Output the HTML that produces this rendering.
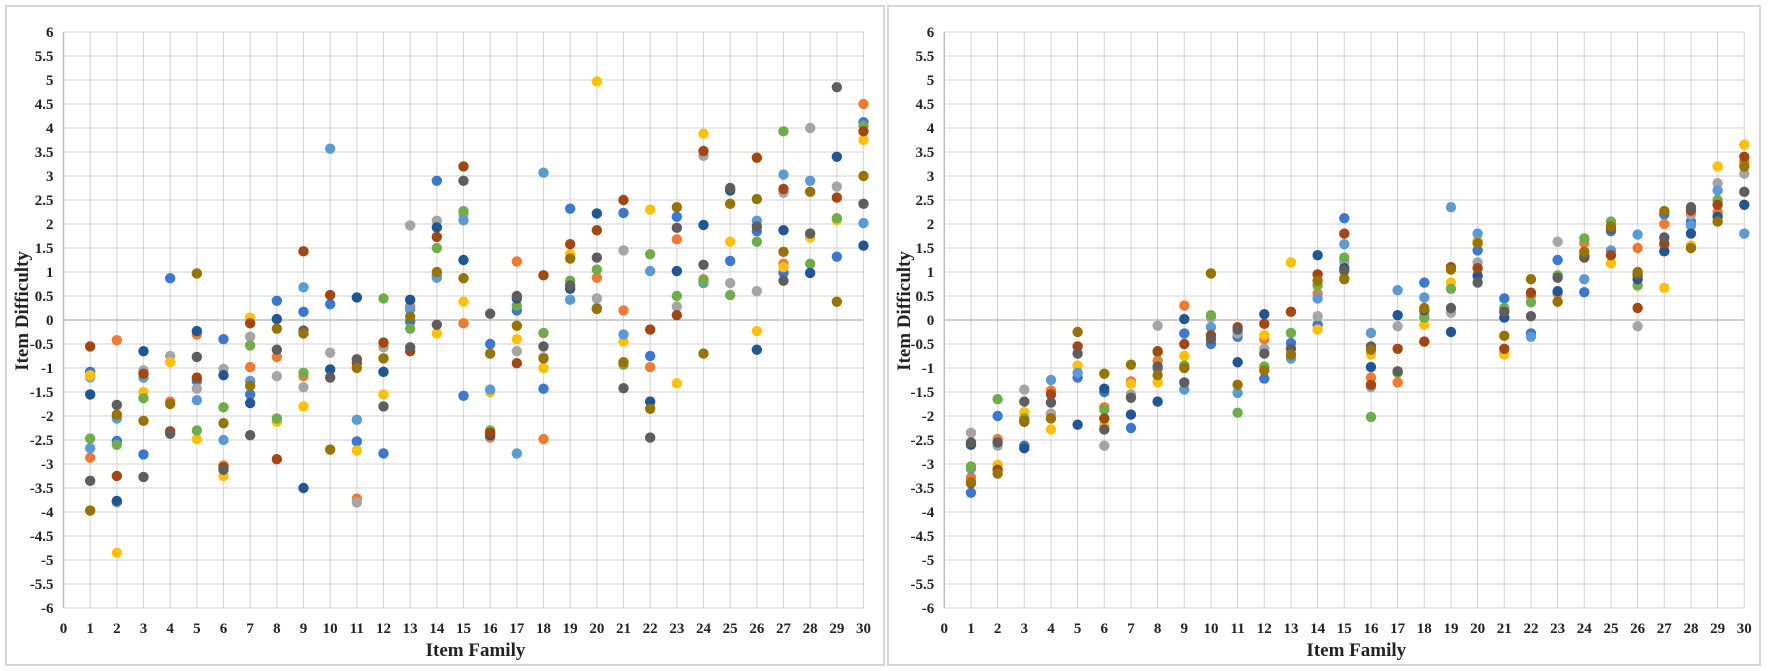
<!DOCTYPE html>
<html><head><meta charset="utf-8">
<style>
html,body{margin:0;padding:0;background:#fff;}
svg{display:block;}
text{font-family:"Liberation Serif",serif;font-weight:bold;fill:#222;}
</style></head>
<body>
<svg id="chart" width="1772" height="671" viewBox="0 0 1772 671" xmlns="http://www.w3.org/2000/svg"></svg>
<script>
// Series order: blue, orange, gray, yellow, lightblue, green, darkblue, darkred, darkgray, olive
const seriesNames = ['blue','orange','gray','yellow','light-blue','green','dark-blue','dark-red','dark-gray','olive'];
const seriesColors = ['#3a78d4','#f07a30','#a5a5a5','#ffc000','#5b9bd5','#6fad47','#1f5796','#a3460f','#5e5e5e','#997300'];
const families = [1,2,3,4,5,6,7,8,9,10,11,12,13,14,15,16,17,18,19,20,21,22,23,24,25,26,27,28,29,30];
const xTicks = [0,1,2,3,4,5,6,7,8,9,10,11,12,13,14,15,16,17,18,19,20,21,22,23,24,25,26,27,28,29,30];
const yTicks = [6,5.5,5,4.5,4,3.5,3,2.5,2,1.5,1,0.5,0,-0.5,-1,-1.5,-2,-2.5,-3,-3.5,-4,-4.5,-5,-5.5,-6];
const _ = null;

// Left chart
const leftBlue = [-1.08,-2.52,-2.8,0.87,-1.27,-0.4,-1.55,0.4,0.17,0.33,-2.53,-2.78,-0.03,2.9,-1.58,-0.5,0.2,-1.43,2.32,_,2.23,-0.75,2.15,_,1.23,1.85,0.98,_,1.32,4.12];
const leftOrange = [-2.87,-0.42,-1.1,-1.7,-0.3,-3.03,-0.98,-0.77,-1.17,_,-3.72,_,0.28,0.93,-0.07,-2.45,1.22,-2.48,_,0.88,0.2,-0.98,1.68,0.85,_,_,1.17,_,_,4.5];
const leftGray = [-1.2,-3.8,-1.05,-0.75,-1.43,-1.02,-0.35,-1.17,-1.4,-0.68,-3.8,-0.57,1.97,2.07,2.2,-2.35,-0.65,-0.78,_,0.45,1.45,_,0.28,3.42,0.77,0.6,2.65,4.0,2.78,_];
const leftYellow = [-1.15,-4.85,-1.5,-0.88,-2.48,-3.25,0.05,-2.12,-1.8,_,-2.72,-1.55,_,-0.28,0.38,-1.5,-0.4,-1.0,1.37,4.97,-0.45,2.3,-1.32,3.88,1.63,-0.23,1.1,1.72,2.08,3.75];
const leftLightBlue = [-2.67,-2.05,-1.2,_,-1.67,-2.5,-1.27,_,0.68,3.57,-2.08,_,0.22,0.88,2.08,-1.45,-2.78,3.07,0.42,0.25,-0.3,1.02,_,0.77,_,2.07,3.03,2.9,_,2.02];
const leftGreen = [-2.47,-2.6,-1.63,_,-2.3,-1.82,-0.53,-2.05,-1.1,_,_,0.45,-0.18,1.5,2.27,-2.3,0.3,-0.27,0.82,1.05,-0.93,1.37,0.5,0.82,0.52,1.63,3.93,1.17,2.12,4.05];
const leftDarkBlue = [-1.55,-3.77,-0.65,_,-0.23,-1.15,-1.73,0.02,-3.5,-1.03,0.47,-1.08,0.42,1.93,1.25,-2.4,0.45,_,0.65,2.22,_,-1.7,1.02,1.98,2.7,-0.62,1.87,0.98,3.4,1.55];
const leftDarkRed = [-0.55,-3.25,-1.12,-2.32,-1.2,-3.07,-0.07,-2.9,1.43,0.52,-0.9,-0.47,-0.65,1.73,3.2,-2.35,-0.9,0.93,1.58,1.87,2.5,-0.2,0.1,3.52,_,3.38,2.73,_,2.55,3.93];
const leftDarkGray = [-3.35,-1.77,-3.27,-2.37,-0.77,-3.12,-2.4,-0.62,-0.22,-1.2,-0.82,-1.8,-0.57,-0.1,2.9,0.13,0.5,-0.55,0.72,1.3,-1.42,-2.45,1.92,1.15,2.75,1.95,0.82,1.8,4.85,2.42];
const leftOlive = [-3.97,-1.97,-2.1,-1.75,0.97,-2.15,-1.37,-0.18,-0.28,-2.7,-1.0,-0.8,0.07,1.0,0.87,-0.7,-0.12,-0.8,1.28,0.23,-0.88,-1.85,2.35,-0.7,2.42,2.52,1.42,2.67,0.38,3.0];

// Right chart
const rightBlue = [-3.6,-2.0,-2.62,_,-1.2,-1.5,-2.25,_,-0.28,-0.5,-0.35,-1.22,-0.48,-0.1,2.12,_,_,0.78,_,1.45,0.45,-0.28,1.25,0.58,1.85,_,2.2,2.05,_,_];
const rightOrange = [-3.28,-2.48,_,-1.47,_,-1.82,-1.28,-0.85,0.3,_,_,-0.4,_,0.55,_,-1.2,-1.3,_,_,_,-0.7,0.5,0.55,1.6,_,1.5,2.0,_,2.25,3.3];
const rightGray = [-2.35,-2.62,-1.45,-1.95,_,-2.62,-1.55,-0.12,_,0.05,-0.28,-0.6,_,0.08,1.2,-1.4,-0.13,0.1,0.15,1.2,_,_,1.63,_,_,-0.13,1.55,2.2,2.85,3.05];
const rightYellow = [_,-3.02,-1.92,-2.28,-0.95,-2.2,-1.33,-1.3,-0.75,_,_,-0.32,1.2,-0.2,0.9,-0.72,_,-0.1,0.78,1.65,-0.72,_,_,_,1.18,0.9,0.67,1.55,3.2,3.65];
const rightLightBlue = [-3.1,_,_,-1.25,-1.1,_,_,-1.02,-1.45,-0.15,-1.52,_,-0.8,0.45,1.58,-0.27,0.62,0.47,2.35,1.8,_,-0.35,_,0.85,1.45,1.78,_,1.97,2.7,1.8];
const rightGreen = [-3.05,-1.65,-2.05,_,_,-1.87,_,-0.67,-0.95,0.1,-1.93,-0.97,-0.27,0.72,1.3,-2.02,-1.1,0.05,0.65,_,0.25,0.37,0.93,1.7,2.05,0.72,_,_,2.5,_];
const rightDarkBlue = [-2.6,_,-2.67,_,-2.18,-1.43,-1.97,-1.7,0.02,_,-0.88,0.12,_,1.35,1.08,-0.98,0.1,_,-0.25,0.92,0.05,_,0.6,_,_,0.85,1.43,1.8,2.15,2.4];
const rightDarkRed = [-3.4,-3.12,-2.12,-1.55,-0.55,-2.05,_,-0.65,-0.5,-0.32,-0.15,-0.08,0.17,0.95,1.8,-1.35,-0.6,-0.45,1.1,1.08,-0.6,0.57,_,1.3,1.35,0.25,1.6,2.28,2.4,3.4];
const rightDarkGray = [-2.55,-2.55,-1.7,-1.72,-0.7,-2.28,-1.62,-0.97,-1.3,-0.4,-0.2,-0.7,-0.6,_,1.03,-0.55,-1.07,0.2,0.25,0.78,0.17,0.08,0.88,1.33,1.9,0.95,1.72,2.35,_,2.67];
const rightOlive = [-3.38,-3.2,-2.1,-2.05,-0.25,-1.12,-0.93,-1.15,-1.0,0.97,-1.35,-1.05,-0.72,0.82,0.85,-0.62,_,0.25,1.05,1.6,-0.33,0.85,0.38,1.42,1.95,1.0,2.27,1.5,2.05,3.2];

const leftSeries = [leftBlue,leftOrange,leftGray,leftYellow,leftLightBlue,leftGreen,leftDarkBlue,leftDarkRed,leftDarkGray,leftOlive];
const rightSeries = [rightBlue,rightOrange,rightGray,rightYellow,rightLightBlue,rightGreen,rightDarkBlue,rightDarkRed,rightDarkGray,rightOlive];

const NS = 'http://www.w3.org/2000/svg';
const svg = document.getElementById('chart');
function mk(tag, attrs, parent){
  const e = document.createElementNS(NS, tag);
  for (const k in attrs) e.setAttribute(k, attrs[k]);
  (parent||svg).appendChild(e);
  return e;
}

function drawChart(prefix, panelX, panelW, x0, series){
  const yTop = 32, yBot = 608, x30 = x0 + 800;
  const xs = v => x0 + (v - 0) * (x30 - x0) / 30;
  const ys = v => yTop + (6 - v) * (yBot - yTop) / 12;
  const g = mk('g', {});
  
  
  const panel = mk('rect', {x: panelX, y: 6, width: panelW, height: 659, fill: '#fff', stroke: '#d6d6d6', 'stroke-width': 2}, g);
  
  
  const grid = mk('g', {}, g);
  
  
  xTicks.forEach(t => {
    mk('line', {x1: xs(t), x2: xs(t), y1: yTop, y2: yBot, stroke: t===0 ? '#bfbfbf' : '#d9d9d9', 'stroke-width': t===0?1.5:1.2}, grid);
    const lbl = mk('text', {x: xs(t), y: 633, 'text-anchor': 'middle', 'font-size': 15}, g);
    lbl.textContent = t;
    
    
  });
  yTicks.forEach(t => {
    mk('line', {x1: x0, x2: x30, y1: ys(t), y2: ys(t), stroke: t===0 ? '#bfbfbf' : '#d9d9d9', 'stroke-width': t===0?1.5:1.2}, grid);
    const lbl = mk('text', {x: x0 - 10, y: ys(t) + 5, 'text-anchor': 'end', 'font-size': 15}, g);
    lbl.textContent = t;
    
    
  });
  const yt = mk('text', {x: 0, y: 0, 'text-anchor': 'middle', 'font-size': 19, transform: `translate(${panelX + 22},311) rotate(-90)`}, g);
  yt.textContent = 'Item Difficulty';
  
  
  const xt = mk('text', {x: (x0 + x30) / 2 + 12, y: 656, 'text-anchor': 'middle', 'font-size': 19}, g);
  xt.textContent = 'Item Family';
  
  
  series.forEach((arr, si) => {
    const sg = mk('g', {}, g);
    
    
    arr.forEach((v, i) => {
      if (v === null) return;
      const c = mk('circle', {cx: xs(families[i]), cy: ys(v), r: 5.2, fill: seriesColors[si]}, sg);
      
      
    });
  });
}
drawChart('left', 6, 878, 63.5, leftSeries);
drawChart('right', 888, 872, 944.3, rightSeries);
</script>
</body></html>
